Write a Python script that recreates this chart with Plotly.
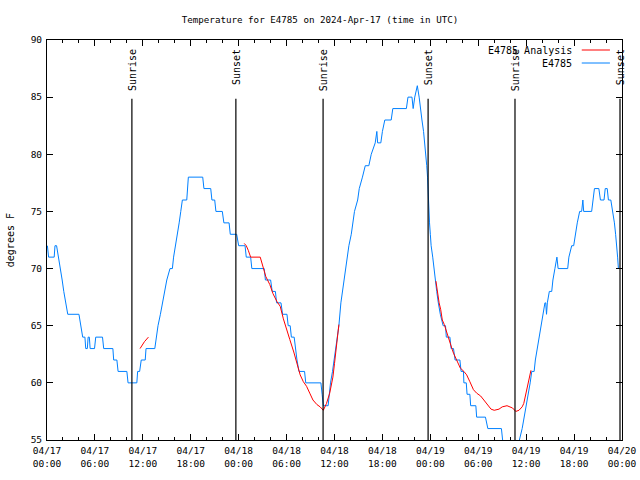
import pandas as pd
import plotly.graph_objects as go

BASE = pd.Timestamp("2024-04-17 00:00")

# Observed station series (hours after 04/17 00:00 UTC, degrees F)
obs_hours = [0.05, 0.2, 0.9, 1.0, 1.2, 1.45, 1.65, 1.9, 2.1, 2.35, 2.6, 4.0, 4.2, 4.47, 4.75, 4.85, 5.05,
             5.15, 5.3, 5.4, 5.95, 6.1, 6.95, 7.1, 8.25, 8.35, 8.75, 8.9, 10.0, 10.15, 11.25, 11.35, 11.6,
             11.8, 12.3, 12.4, 13.5, 13.7, 13.9, 14.2, 14.45, 14.7, 15.0, 15.4, 15.7, 15.85, 16.1, 16.35,
             16.55, 16.75, 16.95, 17.5, 17.6, 17.7, 19.5, 19.65, 20.5, 20.65, 21.0, 21.15, 21.95, 22.15,
             22.8, 22.95, 23.75, 23.9, 24.0, 24.8, 24.95, 25.5, 25.65, 27.2, 27.35, 28.0, 28.2, 28.6, 28.75,
             29.3, 29.5, 30.05, 30.2, 30.45, 30.6, 30.95, 31.1, 31.3, 31.55, 32.25, 32.4, 34.3, 34.45, 34.6,
             35.2, 35.35, 35.5, 35.75, 35.95, 36.15, 36.35, 36.55, 36.8, 37.1, 37.4, 37.6, 37.8, 38.1, 38.3,
             38.5, 38.9, 39.1, 39.5, 39.85, 40.3, 40.6, 41.1, 41.3, 41.4, 41.8, 42.0, 42.3, 43.1, 43.3, 45.0,
             45.2, 45.7, 45.85, 46.05, 46.25, 46.37, 46.6, 46.75, 46.95, 47.15, 47.3, 47.45, 47.55, 47.65,
             47.75, 47.82, 47.9, 48.0, 48.1, 48.3, 48.45, 48.6, 48.8, 49.0, 49.25, 49.6, 49.9, 50.0, 50.45,
             50.6, 50.9, 51.1, 51.7, 51.85, 52.15, 52.2, 52.5, 52.6, 52.95, 53.05, 53.7, 53.8, 54.9, 55.2,
             56.9, 57.05, 57.25, 58.95, 59.15, 59.5, 59.75, 60.05, 60.3, 60.5, 60.7, 61.0, 61.15, 61.4,
             61.6, 61.85, 62.15, 62.35, 62.45, 62.55, 62.65, 62.9, 63.2, 63.35, 63.6, 63.85, 64.0, 65.2,
             65.35, 65.7, 65.95, 66.15, 66.4, 66.7, 66.95, 67.1, 67.2, 68.2, 68.35, 68.55, 69.1, 69.3,
             69.75, 69.9, 70.15, 70.3, 70.6, 70.85, 71.05, 71.2, 71.35, 71.45, 71.55]
obs_temps = [72, 71, 71, 72, 72, 71, 70, 69, 68, 67, 66, 66, 65, 64, 64, 63, 63,
             64, 64, 63, 63, 64, 64, 63, 63, 62, 62, 61, 61, 60, 60, 61, 61,
             62, 62, 63, 63, 64, 65, 66, 67, 68, 69, 70, 70, 71, 72, 73,
             74, 75, 76, 76, 77, 78, 78, 77, 77, 76, 76, 75, 75, 74,
             74, 73, 73, 72.5, 72, 72, 71, 71, 70, 70, 69, 69, 68, 68, 67,
             67, 66, 66, 65, 65, 64, 64, 63, 62, 61, 61, 60, 60, 59, 58,
             58, 59, 60, 61, 62, 63, 64, 65, 67, 68.5, 70, 71, 72, 73, 74,
             75, 76, 77, 78, 79, 79, 80, 81, 82, 81, 81, 82, 83, 83, 84, 84,
             85, 85, 84, 85, 85.6, 86, 85, 84, 83, 82, 81, 80, 79, 78,
             76, 75, 74, 73, 72, 71, 70, 69, 68, 67, 66, 65, 65, 64, 64,
             63, 63, 62, 62, 61, 61, 60, 60, 59, 59, 58, 58, 57, 57, 56,
             56, 55, 54, 54, 55, 56, 57, 58, 59, 60, 61, 61, 62, 63,
             64, 65, 66, 67, 67, 66, 67, 68, 68, 69, 70, 71, 70, 70,
             71, 72, 72, 73, 74, 75, 75, 76, 75, 75, 76, 77, 77, 76,
             76, 77, 77, 76, 76, 75, 74, 73, 72, 71, 70]

# Analysis series, three separate segments
ana1_hours = [11.65, 11.9, 12.2, 12.7]
ana1_temps = [63.0, 63.3, 63.6, 64.0]
ana2_hours = [24.7, 24.95, 25.2, 25.5, 26.7, 26.85, 27.0, 27.2, 27.4, 27.9, 28.3, 28.8, 29.2, 29.6, 30.0,
              30.4, 30.9, 31.3, 31.7, 32.1, 32.5, 32.9, 33.3, 33.8, 34.2, 34.6, 35.0, 35.4, 35.6, 35.8,
              36.0, 36.2, 36.4, 36.55]
ana2_temps = [72.2, 72.0, 71.6, 71.0, 71.0, 70.6, 70.2, 69.6, 69.3, 68.6, 67.8, 67.1, 66.7, 65.6, 64.6,
              63.8, 62.7, 61.7, 60.7, 60.1, 59.7, 59.1, 58.5, 58.1, 57.9, 57.6, 58.2, 59.1, 59.7, 60.5,
              61.7, 62.9, 64.3, 65.1]
ana3_hours = [48.7, 48.9, 49.1, 49.3, 49.5, 49.75, 50.0, 50.25, 50.5, 50.7, 50.9, 51.3, 51.75, 52.2,
              52.55, 52.95, 53.4, 53.8, 54.3, 54.7, 55.1, 55.6, 56.0, 56.6, 57.0, 57.6, 58.3, 58.7, 59.1,
              59.5, 59.7, 59.9, 60.1, 60.3, 60.5, 60.6]
ana3_temps = [68.9, 67.8, 67.0, 66.4, 65.5, 65.1, 64.5, 64.0, 63.3, 63.0, 62.6, 62.0, 61.3, 61.0,
              60.7, 60.1, 59.4, 59.1, 58.85, 58.5, 58.1, 57.7, 57.6, 57.7, 57.9, 58.0, 57.8, 57.5, 57.6,
              57.9, 58.2, 58.8, 59.4, 60.1, 60.8, 61.1]

# Sun events (hours after 04/17 00:00 UTC)
sun_hours = [10.63, 23.65, 34.57, 47.72, 58.6, 71.75]
sun_labels = ["Sunrise", "Sunset", "Sunrise", "Sunset", "Sunrise", "Sunset"]

tick_hours = list(range(0, 73, 6))
tick_labels = ["04/17<br>00:00", "04/17<br>06:00", "04/17<br>12:00", "04/17<br>18:00",
               "04/18<br>00:00", "04/18<br>06:00", "04/18<br>12:00", "04/18<br>18:00",
               "04/19<br>00:00", "04/19<br>06:00", "04/19<br>12:00", "04/19<br>18:00",
               "04/20<br>00:00"]


def to_t(hours):
    return [BASE + pd.Timedelta(hours=h) for h in hours]


FONT = "DejaVu Sans Mono"
BLUE = "#0080ff"
RED = "#ff0000"

ana_x = to_t(ana1_hours) + [None] + to_t(ana2_hours) + [None] + to_t(ana3_hours)
ana_y = ana1_temps + [None] + ana2_temps + [None] + ana3_temps

fig = go.Figure()
fig.add_trace(go.Scatter(x=to_t(obs_hours), y=obs_temps, mode="lines", name="E4785",
                         line=dict(color=BLUE, width=1)))
fig.add_trace(go.Scatter(x=ana_x, y=ana_y, mode="lines", name="E4785 Analysis",
                         line=dict(color=RED, width=1), connectgaps=False))

for h, lab in zip(sun_hours, sun_labels):
    t = BASE + pd.Timedelta(hours=h)
    fig.add_shape(type="line", xref="x", yref="y", x0=t, x1=t, y0=55, y1=84.85,
                  line=dict(color="black", width=1.2))
    fig.add_annotation(x=t, xref="x", y=0.982, yref="paper", text=lab, textangle=-90,
                       showarrow=False, xanchor="center", yanchor="top",
                       font=dict(family=FONT, size=10, color="black"))

# legend drawn in gnuplot style (text right, sample on the right)
leg_rows = [("E4785 Analysis", RED, 0.975), ("E4785", BLUE, 0.9425)]
for text, col, yy in leg_rows:
    fig.add_annotation(x=0.9165, xref="paper", y=yy, yref="paper", text=text, showarrow=False,
                       xanchor="right", yanchor="middle", font=dict(family=FONT, size=10, color="black"))
    fig.add_shape(type="line", xref="paper", yref="paper", x0=0.930, x1=0.979, y0=yy, y1=yy,
                  line=dict(color=col, width=1))

fig.add_annotation(x=-0.064, xref="paper", y=0.5, yref="paper", text="degrees F", textangle=-90,
                   showarrow=False, xanchor="center", yanchor="middle",
                   font=dict(family=FONT, size=10, color="black"))

fig.update_layout(
    width=640, height=480,
    margin=dict(l=47, r=18, t=40, b=40, autoexpand=False),
    paper_bgcolor="white", plot_bgcolor="white",
    showlegend=False,
    title=dict(text="Temperature for E4785 on 2024-Apr-17 (time in UTC)", x=0.5, xanchor="center",
               y=0.958, yanchor="middle", font=dict(family=FONT, size=9.2, color="black")),
    font=dict(family=FONT, size=10, color="black"),
)
fig.update_xaxes(
    range=[BASE, BASE + pd.Timedelta(hours=72)],
    tickmode="array", tickvals=to_t(tick_hours), ticktext=tick_labels,
    ticks="inside", ticklen=6, tickcolor="black", tickwidth=1,
    minor=dict(ticks="inside", ticklen=3, tickcolor="black", tickmode="array",
               tickvals=to_t(list(range(0, 73, 2)))),
    showline=True, linecolor="black", linewidth=1, mirror="ticks",
    showgrid=False, zeroline=False, automargin=False, ticklabelstandoff=2,
    tickfont=dict(family=FONT, size=9.5, color="black"),
)
fig.update_yaxes(
    range=[55, 90], dtick=5, tick0=55,
    ticks="inside", ticklen=6, tickcolor="black", tickwidth=1,
    showline=True, linecolor="black", linewidth=1, mirror="ticks",
    showgrid=False, zeroline=False, automargin=False, ticklabelstandoff=2,
    tickfont=dict(family=FONT, size=9.5, color="black"),
)

fig.write_html("out.html")
